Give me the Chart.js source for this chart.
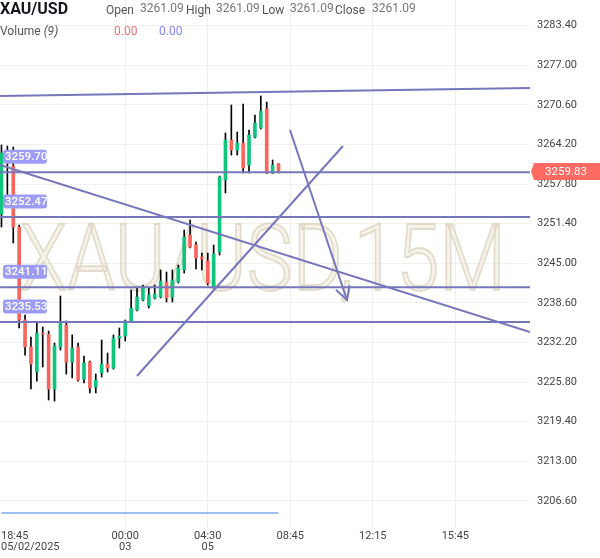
<!DOCTYPE html>
<html>
<head>
<meta charset="utf-8">
<script src="https://cdn.jsdelivr.net/npm/chart.js@4.4.1/dist/chart.umd.min.js"></script>
<style>
  html, body { margin: 0; padding: 0; background: #fff; }
  #wrap { position: relative; width: 600px; height: 558px; font-family: Roboto, sans-serif; }
  #chart { position: absolute; left: 0; top: 0; }
  .hd { position: absolute; white-space: nowrap; font-size: 12px; line-height: 12px; color: #555; }
  .val { color: #777; }
</style>
</head>
<body>
<div id="wrap">
  <canvas id="chart" width="600" height="558"></canvas>
  <div class="hd" style="left:0;top:1px;font-size:16px;line-height:16px;font-weight:700;color:#131722">XAU/USD</div>
  <div class="hd" style="left:106px;top:4px">Open</div>
  <div class="hd val" style="left:140px;top:2px">3261.09</div>
  <div class="hd" style="left:186px;top:4px">High</div>
  <div class="hd val" style="left:216px;top:2px">3261.09</div>
  <div class="hd" style="left:262px;top:4px">Low</div>
  <div class="hd val" style="left:290px;top:2px">3261.09</div>
  <div class="hd" style="left:335px;top:4px">Close</div>
  <div class="hd val" style="left:372px;top:2px">3261.09</div>
  <div class="hd" style="left:0;top:25px">Volume <i>(9)</i></div>
  <div class="hd" style="left:114px;top:25px;color:#e57373">0.00</div>
  <div class="hd" style="left:159px;top:25px;color:#8484f5">0.00</div>
</div>
<script>
// --- data (15 min candles, index = bar number) ---
const opens = [3252.95, 3262.16, 3260.71, 3250.85, 3235.83, 3231.47, 3227.43, 3233.73, 3233.50, 3224.68,
  3231.47, 3235.02, 3229.04, 3231.47, 3226.30, 3229.04, 3225.01, 3227.27, 3228.72, 3228.07,
  3232.92, 3233.24, 3235.67, 3237.44, 3239.06, 3238.09, 3239.38, 3239.54, 3241.97, 3239.54,
  3241.97, 3243.91, 3249.56, 3247.95, 3246.01, 3245.36, 3241.16, 3246.81, 3258.45, 3264.91,
  3263.29, 3264.42, 3260.87, 3265.39, 3266.85, 3269.92, 3259.58, 3261.09];
const highs = [3264.10, 3263.94, 3263.78, 3251.18, 3236.64, 3233.08, 3235.51, 3234.70, 3234.05, 3232.11,
  3239.71, 3235.67, 3233.41, 3232.11, 3230.01, 3229.20, 3227.11, 3232.60, 3230.50, 3233.41,
  3234.54, 3235.83, 3240.68, 3241.00, 3241.48, 3241.16, 3241.48, 3243.91, 3243.59, 3243.91,
  3244.72, 3250.37, 3251.98, 3248.43, 3246.65, 3246.65, 3247.95, 3259.09, 3266.04, 3270.56,
  3266.20, 3270.72, 3266.52, 3268.95, 3272.02, 3271.05, 3261.68, 3261.09];
const lows = [3250.85, 3255.22, 3248.27, 3234.54, 3230.17, 3224.68, 3225.97, 3228.24, 3222.91, 3222.74,
  3230.98, 3227.11, 3226.46, 3225.97, 3225.65, 3224.04, 3224.04, 3226.62, 3227.43, 3227.91,
  3231.31, 3232.44, 3235.51, 3237.28, 3238.90, 3237.77, 3239.22, 3239.38, 3238.74, 3238.74,
  3241.81, 3243.42, 3247.46, 3244.07, 3243.91, 3241.48, 3241.00, 3246.33, 3256.35, 3262.48,
  3262.48, 3259.58, 3259.58, 3265.23, 3266.69, 3259.50, 3259.50, 3259.60];
const closes = [3262.81, 3261.19, 3250.85, 3235.83, 3231.47, 3228.72, 3233.73, 3233.55, 3224.68, 3231.63,
  3235.34, 3229.04, 3231.31, 3226.14, 3228.88, 3224.84, 3226.14, 3228.72, 3228.07, 3232.92,
  3233.24, 3235.67, 3237.77, 3239.54, 3241.00, 3239.87, 3240.03, 3242.13, 3239.38, 3242.29,
  3244.23, 3249.24, 3247.62, 3245.85, 3245.68, 3241.81, 3246.49, 3258.93, 3264.91, 3263.29,
  3264.42, 3260.38, 3265.72, 3267.65, 3269.59, 3259.58, 3260.87, 3259.83];
const volumes = [0, 0, 0, 0, 0, 0, 0, 0, 0, 0, 0, 0, 0, 0, 0, 0, 0, 0, 0, 0, 0, 0, 0, 0,
  0, 0, 0, 0, 0, 0, 0, 0, 0, 0, 0, 0, 0, 0, 0, 0, 0, 0, 0, 0, 0, 0, 0, 0];

const lastPrice = 3259.83;
const levels = [3259.70, 3252.47, 3241.11, 3235.53];
// drawn trend lines: [startIndex, startPrice, endIndex, endPrice]
const trendLines = [
  [-0.25, 3272.02, 89.67, 3273.31],
  [-0.25, 3260.87, 89.67, 3233.89],
  [22.99, 3226.78, 57.94, 3263.94]
];
const arrowLine = [48.95, 3266.52, 58.62, 3239.06];

const xTickIndex = [0, 21, 35, 49, 63, 77];
const xTickTop = ['18:45', '00:00', '04:30', '08:45', '12:15', '15:45'];
const xTickBottom = ['05/02/2025', '03', '05', '', '', ''];
const yTickLabels = ['3206.60', '3213.00', '3219.40', '3225.80', '3232.20', '3238.60', '3245.00',
  '3251.40', '3257.80', '3264.20', '3270.60', '3277.00', '3283.40'];
const watermark = 'XAU/USD,15M';

const green = '#0fc47c';
const red = '#f7655d';
const drawColor = '#7676bb';

const bodyColors = opens.map((o, i) => closes[i] >= o ? green : red);
const wickData = lows.map((l, i) => ({ x: i, y: [l, highs[i]] }));
const bodyData = opens.map((o, i) => ({ x: i, y: [o, closes[i]] }));

const lineSet = (pts, extra) => Object.assign({
  type: 'line',
  data: [{ x: pts[0], y: pts[1] }, { x: pts[2], y: pts[3] }],
  borderColor: drawColor, borderWidth: 2, pointRadius: 0, order: 0
}, extra || {});

const datasets = [
  { type: 'bar', data: wickData, backgroundColor: '#000', barThickness: 1, grouped: false, order: 2 },
  { type: 'bar', data: bodyData, backgroundColor: bodyColors, barThickness: 3, grouped: false, minBarLength: 1, order: 1 },
  { type: 'line', data: volumes.map((v, i) => ({ x: i, y: v })), yAxisID: 'yv',
    borderColor: '#9fc0f5', borderWidth: 2, pointRadius: 0, order: 3 }
];
levels.forEach(v => datasets.push(lineSet([-0.25, v, 89.67, v])));
trendLines.forEach(t => datasets.push(lineSet(t)));
datasets.push(lineSet(arrowLine));

const font = { family: 'Roboto', size: 11, lineHeight: 1 };

const noPad = s => { s.paddingTop = 0; s.paddingBottom = 0; s.paddingLeft = 0; s.paddingRight = 0; };

const overlay = {
  id: 'overlay',
  beforeDatasetsDraw(chart) {
    const ctx = chart.ctx;
    ctx.save();
    ctx.font = '300 92px Roboto';
    ctx.textBaseline = 'alphabetic';
    ctx.fillStyle = 'rgba(240,235,222,0.6)';
    ctx.strokeStyle = 'rgba(212,202,176,0.6)';
    ctx.lineWidth = 2;
    ctx.fillText(watermark, 20, 290, 486);
    ctx.strokeText(watermark, 20, 290, 486);
    ctx.restore();
  },
  afterDraw(chart) {
    const ctx = chart.ctx;
    const xs = chart.scales.x, ys = chart.scales.y;
    ctx.save();
    // arrow head
    const x1 = xs.getPixelForValue(arrowLine[0]), y1 = ys.getPixelForValue(arrowLine[1]);
    const x2 = xs.getPixelForValue(arrowLine[2]), y2 = ys.getPixelForValue(arrowLine[3]);
    const a = Math.atan2(y1 - y2, x1 - x2);
    ctx.strokeStyle = drawColor;
    ctx.lineWidth = 2;
    ctx.beginPath();
    ctx.moveTo(x2 + 15 * Math.cos(a - 0.5), y2 + 15 * Math.sin(a - 0.5));
    ctx.lineTo(x2, y2);
    ctx.lineTo(x2 + 15 * Math.cos(a + 0.5), y2 + 15 * Math.sin(a + 0.5));
    ctx.stroke();

    // level tags
    ctx.font = '500 11.5px Roboto';
    ctx.textBaseline = 'middle';
    levels.forEach(v => {
      const y = ys.getPixelForValue(v) - 15.5;
      ctx.fillStyle = '#9c9cf6';
      ctx.beginPath();
      ctx.roundRect(3, y - 7, 44, 14, 3);
      ctx.fill();
      ctx.fillStyle = '#fff';
      ctx.fillText(v.toFixed(2), 5, y + 0.5);
    });

    // last price tag
    const py = ys.getPixelForValue(lastPrice);
    ctx.fillStyle = '#ff6a62';
    ctx.beginPath();
    ctx.moveTo(531, py);
    ctx.lineTo(534, py - 8.5);
    ctx.lineTo(600, py - 8.5);
    ctx.lineTo(600, py + 8.5);
    ctx.lineTo(534, py + 8.5);
    ctx.closePath();
    ctx.fill();
    ctx.fillStyle = '#fff';
    ctx.font = '11.5px Roboto';
    ctx.textAlign = 'center';
    ctx.fillText(lastPrice.toFixed(2), 566, py + 0.5);

    // first time label, left aligned at the edge
    ctx.fillStyle = '#444';
    ctx.font = '11px Roboto';
    ctx.textAlign = 'left';
    const by = chart.chartArea.bottom + 3;
    ctx.fillText(xTickTop[0], 1, by + 5.5);
    ctx.fillText(xTickBottom[0], 1, by + 16.5);
    ctx.restore();
  }
};

new Chart(document.getElementById('chart'), {
  type: 'bar',
  data: { datasets },
  options: {
    responsive: false,
    animation: false,
    devicePixelRatio: 1,
    layout: { padding: 0 },
    plugins: { legend: { display: false }, tooltip: { enabled: false } },
    scales: {
      x: {
        type: 'linear', min: -0.25, max: 89.67, offset: false,
        afterBuildTicks: s => { s.ticks = xTickIndex.slice(1).map(v => ({ value: v })); },
        afterFit: s => { s.height = 30; noPad(s); },
        ticks: {
          autoSkip: false, maxRotation: 0, padding: 3, color: '#444', font,
          callback: v => { const k = xTickIndex.indexOf(v); return [xTickTop[k], xTickBottom[k]]; }
        },
        grid: { color: '#efefef', drawTicks: false, offset: false },
        border: { display: false }
      },
      y: {
        type: 'linear', position: 'right', min: 3202.23, max: 3287.53,
        afterBuildTicks: s => { s.ticks = yTickLabels.map(t => ({ value: parseFloat(t) })); },
        afterFit: s => { s.width = 70; noPad(s); },
        ticks: { color: '#444', font, padding: 7, callback: v => v.toFixed(2) },
        grid: { color: '#f0f0f0', drawTicks: false },
        border: { display: false }
      },
      yv: { type: 'linear', display: false, min: -1, max: 34.2 }
    }
  },
  plugins: [overlay]
});
</script>
</body>
</html>
